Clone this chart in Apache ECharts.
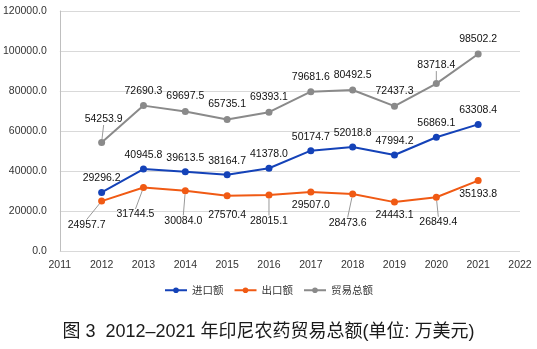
<!DOCTYPE html>
<html>
<head>
<meta charset="utf-8">
<script src="https://cdn.jsdelivr.net/npm/echarts@6/dist/echarts.min.js"></script>
<style>
  html, body { margin: 0; padding: 0; background: #fff; }
  #chart { width: 537px; height: 349px; }
</style>
</head>
<body>
<div id="chart"></div>
<script>
// Indonesia pesticide trade, 2012-2021 (10k USD)
const years = [2012, 2013, 2014, 2015, 2016, 2017, 2018, 2019, 2020, 2021];
const importValues = [29296.2, 40945.8, 39613.5, 38164.7, 41378.0, 50174.7, 52018.8, 47994.2, 56869.1, 63308.4];
const exportValues = [24957.7, 31744.5, 30084.0, 27570.4, 28015.1, 29507.0, 28473.6, 24443.1, 26849.4, 35193.8];
const totalValues = [54253.9, 72690.3, 69697.5, 65735.1, 69393.1, 79681.6, 80492.5, 72437.3, 83718.4, 98502.2];
const seriesNames = ['进口额', '出口额', '贸易总额'];
const yTicks = { min: 0, max: 120000, step: 20000 };
const xTicks = { min: 2011, max: 2022, step: 1 };

// label nudges (pixels) for crowded points: [dx, dy, showLeader]
const exportNudge = [[-15, 7, true], [-8, 10, true], [-2, 13, true], [0, 2, false], [0, 9, true],
                     [0, -4, false], [-5, 12, true], [0, -4, false], [2, 8, true], [0, -4, false]];
const totalNudge = [[2, -8, true], [0, 0, false], [0, 0, false], [0, 0, false], [0, 0, false],
                    [0, 0, false], [0, 0, false], [0, 0, false], [0, -3, true], [0, 0, false]];

const colors = ['#1442b8', '#f05a14', '#8a8a8a'];
const labelFont = { fontFamily: 'Liberation Sans, Arial, sans-serif', fontSize: 10.5, color: '#111' };

function pairs(vals) { return years.map((y, i) => [y, vals[i]]); }

function buildData(vals, nudge) {
  return pairs(vals).map((p, i) => {
    const item = { value: p };
    if (nudge && !nudge[i][2]) item.labelLine = { show: false };
    return item;
  });
}

function layoutFrom(nudge) {
  return function (params) {
    const n = nudge[params.dataIndex];
    return { dx: n[0], dy: n[1] };
  };
}

const fmt = v => v.value ? v.value[1].toFixed(1) : '';

const chart = echarts.init(document.getElementById('chart'), null, { renderer: 'canvas' });
chart.setOption({
  animation: false,
  color: colors,
  title: {
    text: '图 3  2012–2021 年印尼农药贸易总额(单位: 万美元)',
    left: 'center',
    top: 318,
    textStyle: { fontFamily: 'Liberation Sans, "Noto Sans CJK SC", sans-serif', fontSize: 18, fontWeight: 'normal', color: '#1a1a1a' }
  },
  legend: {
    data: seriesNames,
    top: 280,
    left: 'center',
    itemWidth: 22,
    itemHeight: 7,
    itemGap: 10,
    textStyle: { fontFamily: '"Noto Sans CJK SC", sans-serif', fontSize: 10.5, color: '#333' }
  },
  grid: { left: 59, right: 17, top: 11, bottom: 98, containLabel: false },
  xAxis: {
    type: 'value',
    min: xTicks.min,
    max: xTicks.max,
    interval: xTicks.step,
    axisLine: { show: false },
    axisTick: { show: false },
    splitLine: { show: false },
    axisLabel: { formatter: v => String(v), margin: 9, fontFamily: 'Liberation Sans, Arial, sans-serif', fontSize: 10.5, color: '#333' }
  },
  yAxis: {
    type: 'value',
    min: yTicks.min,
    max: yTicks.max,
    interval: yTicks.step,
    axisLine: { show: true, lineStyle: { color: '#bfbfbf', width: 1 } },
    axisTick: { show: false },
    splitLine: { show: true, lineStyle: { color: '#d9d9d9', width: 1 } },
    axisLabel: { formatter: v => v.toFixed(1), margin: 13, fontFamily: 'Liberation Sans, Arial, sans-serif', fontSize: 10.5, color: '#333' }
  },
  series: [
    {
      name: seriesNames[0],
      type: 'line',
      data: buildData(importValues),
      symbol: 'circle',
      symbolSize: 7,
      lineStyle: { width: 2 },
      label: Object.assign({ show: true, position: 'top', distance: 5, formatter: fmt }, labelFont)
    },
    {
      name: seriesNames[1],
      type: 'line',
      data: buildData(exportValues, exportNudge),
      symbol: 'circle',
      symbolSize: 7,
      lineStyle: { width: 2 },
      label: Object.assign({ show: true, position: 'bottom', distance: 8, formatter: fmt }, labelFont),
      labelLine: { show: true, lineStyle: { color: '#999', width: 1 } },
      labelLayout: layoutFrom(exportNudge)
    },
    {
      name: seriesNames[2],
      type: 'line',
      data: buildData(totalValues, totalNudge),
      symbol: 'circle',
      symbolSize: 7,
      lineStyle: { width: 2 },
      label: Object.assign({ show: true, position: 'top', distance: 6, formatter: fmt }, labelFont),
      labelLine: { show: true, lineStyle: { color: '#999', width: 1 } },
      labelLayout: layoutFrom(totalNudge)
    }
  ]
});
</script>
</body>
</html>
